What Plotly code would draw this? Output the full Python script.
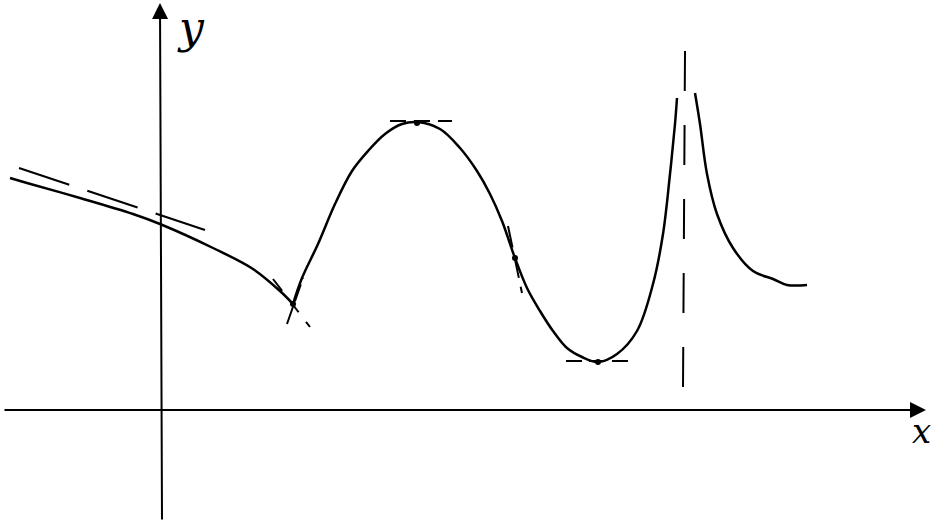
import plotly.graph_objects as go

# ---- data (units: 1 unit = 100 px, origin at the axes crossing) ----
left_x = [-1.50, -1.33, -0.80, -0.27, 0.00, 0.53, 0.93, 1.20, 1.33]
left_y = [2.31, 2.26, 2.11, 1.95, 1.85, 1.61, 1.40, 1.18, 1.05]

mid_x = [1.33, 1.42, 1.58, 1.75, 1.92, 2.08, 2.25, 2.42, 2.57,
         2.80, 3.00, 3.17, 3.30, 3.42, 3.55, 3.67, 3.80, 3.93, 4.07,
         4.22, 4.38, 4.57, 4.77, 4.93, 5.03, 5.10, 5.15, 5.17]
mid_y = [1.05, 1.31, 1.65, 2.05, 2.38, 2.58, 2.75, 2.85, 2.87,
         2.80, 2.61, 2.38, 2.15, 1.88, 1.51, 1.21, 0.98, 0.78, 0.61,
         0.52, 0.47, 0.55, 0.78, 1.25, 1.75, 2.35, 2.85, 3.11]

right_x = [5.35, 5.40, 5.47, 5.57, 5.73, 5.93, 6.13, 6.27, 6.47]
right_y = [3.16, 2.85, 2.35, 1.95, 1.61, 1.38, 1.30, 1.24, 1.24]

# tangent / asymptote segments
tan_left_x, tan_left_y = [-1.41, 0.45], [2.41, 1.79]
tan_cornerL_x, tan_cornerL_y = [1.13, 1.50], [1.30, 0.82]
tan_cornerR_x, tan_cornerR_y = [1.27, 1.43], [0.85, 1.31]
tan_max_x, tan_max_y = [2.30, 2.92], [2.88, 2.88]
tan_infl_x, tan_infl_y = [3.48, 3.62], [1.83, 1.16]
tan_min_x, tan_min_y = [4.06, 4.75], [0.48, 0.48]
asym_x, asym_y = [5.25, 5.23], [3.58, 0.20]

# special points (corner, maximum, inflection, minimum)
pts_x = [1.33, 2.57, 3.55, 4.38]
pts_y = [1.05, 2.86, 1.51, 0.47]

# axes extents: tail -> tip
xaxis_tail, xaxis_tip = [-1.57, -0.01], [7.66, -0.01]
yaxis_tail, yaxis_tip = [0.02, -1.12], [0.00, 4.06]
axis_labels = ["y", "x"]
label_pos_x = [0.31, 7.61]
label_pos_y = [3.82, -0.22]

fig = go.Figure()

curve_style = dict(color="black", width=2.5, shape="spline", smoothing=1.0)
for xs, ys in [(left_x, left_y), (mid_x, mid_y), (right_x, right_y)]:
    fig.add_trace(go.Scatter(x=xs, y=ys, mode="lines", line=curve_style,
                             hoverinfo="skip", showlegend=False))

segments = [
    (tan_left_x, tan_left_y, "53px,19px"),
    (tan_cornerL_x, tan_cornerL_y, "15px,12px"),
    (tan_cornerR_x, tan_cornerR_y, "18px,6px"),
    (tan_max_x, tan_max_y, "16px,8px"),
    (tan_infl_x, tan_infl_y, "22px,9px"),
    (tan_min_x, tan_min_y, "16px,7px"),
    (asym_x, asym_y, "40px,34px"),
]
for xs, ys, dash in segments:
    fig.add_trace(go.Scatter(x=xs, y=ys, mode="lines",
                             line=dict(color="black", width=2, dash=dash),
                             hoverinfo="skip", showlegend=False))

fig.add_trace(go.Scatter(x=pts_x, y=pts_y, mode="markers",
                         marker=dict(color="black", size=6),
                         hoverinfo="skip", showlegend=False))

for tail, tip in [(xaxis_tail, xaxis_tip), (yaxis_tail, yaxis_tip)]:
    fig.add_annotation(x=tip[0], y=tip[1], ax=tail[0], ay=tail[1],
                       xref="x", yref="y", axref="x", ayref="y",
                       text="", showarrow=True, arrowhead=2, arrowsize=1.6,
                       arrowwidth=2, arrowcolor="black")

label_sizes = [44, 34]
for lab, lx, ly, sz in zip(axis_labels, label_pos_x, label_pos_y, label_sizes):
    fig.add_annotation(x=lx, y=ly, xref="x", yref="y", text="<i>%s</i>" % lab,
                       showarrow=False,
                       font=dict(family="DejaVu Serif", size=sz, color="black"))

fig.update_layout(
    width=936, height=521,
    margin=dict(l=0, r=0, t=0, b=0),
    paper_bgcolor="white", plot_bgcolor="white",
    xaxis=dict(range=[-1.60, 7.76], visible=False, fixedrange=True),
    yaxis=dict(range=[-1.12, 4.09], visible=False, fixedrange=True),
    showlegend=False,
)

fig.write_html(
    "out.html",
    config={"displayModeBar": False},
    post_script="document.body.style.margin='0';document.body.style.overflow='hidden';",
)
